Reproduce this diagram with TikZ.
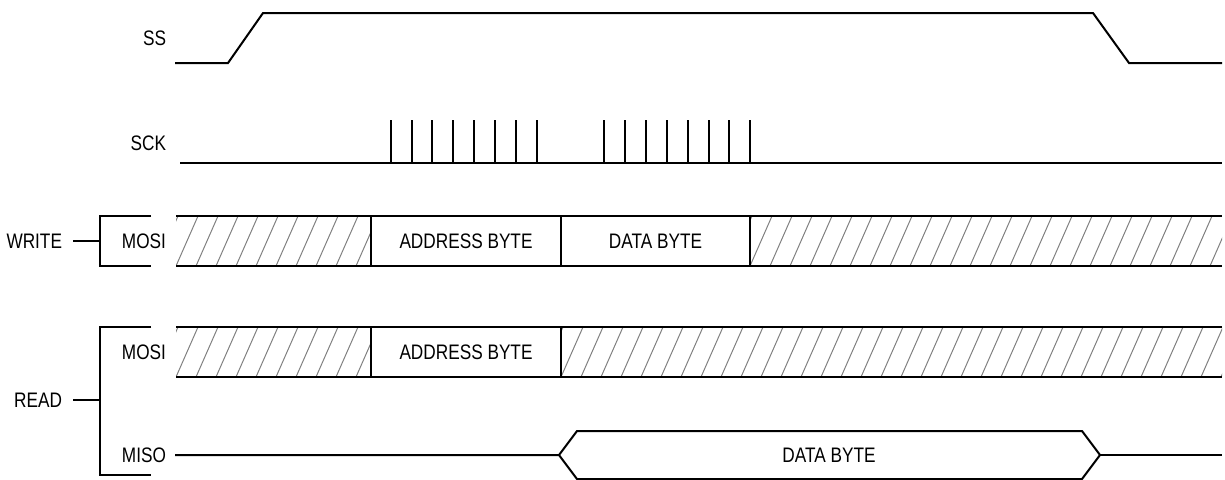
\documentclass[tikz,border=0pt]{standalone}
\usepackage{fontspec}
\setmainfont[FakeStretch=0.82]{Liberation Sans}

% hatched field: left x, right x, top y, bottom y
\newcommand{\hatchfield}[4]{%
  \begin{scope}
    \clip (#1,#3) rectangle (#2,#4);
    \foreach \k in {0,...,60}
      \draw [hatchline] ({#1-40+20*\k},#4) -- ++(22,-50);
  \end{scope}}

\begin{document}
\begin{tikzpicture}[x=0.5pt,y=-0.5pt,line width=1pt,
    every node/.style={font=\fontsize{10.5}{12}\selectfont,inner sep=0pt},
    siglabel/.style={anchor=east},
    hatchline/.style={gray,line width=0.5pt}]
  \useasboundingbox (0,0) rectangle (1225,479);

  % SS
  \node [siglabel] (ss) at (167,38) {SS};
  \draw (175,63) -- (228,63) -- (263,13) -- (1093,13) -- (1129,63) -- (1222,63);

  % SCK
  \node [siglabel] (sck) at (167,143) {SCK};
  \draw (180,163) -- (1222,163);
  \foreach \i in {0,...,7} {
    \draw ({390.7+20.85*\i},163) -- ++(0,-43);
    \draw ({604.3+20.85*\i},163) -- ++(0,-43);
  }

  % write
  \node [siglabel] (write) at (63,241) {WRITE};
  \coordinate (wbr) at (100,241);
  \draw (write.east) ++(10,0) -- (wbr);
  \draw (151,216) -- (100,216) -- (100,266) -- (151,266);
  \node [siglabel] (wmosi) at (167,241) {MOSI};
  \hatchfield{176}{371}{216}{266}
  \hatchfield{750}{1222}{216}{266}
  \draw (176,216) -- (1222,216);
  \draw (176,266) -- (1222,266);
  \draw (371,216) -- (371,266);
  \draw (561,216) -- (561,266);
  \draw (750,216) -- (750,266);
  \node (waddr) at (466,241) {ADDRESS BYTE};
  \node (wdata) at (655.5,241) {DATA BYTE};

  % read
  \node [siglabel] (read) at (63,400) {READ};
  \coordinate (rbr) at (100,400);
  \draw (read.east) ++(10,0) -- (rbr);
  \draw (151,327) -- (100,327) -- (100,475) -- (151,475);
  \node [siglabel] (rmosi) at (167,352) {MOSI};
  \hatchfield{176}{371}{327}{377}
  \hatchfield{561}{1222}{327}{377}
  \draw (176,327) -- (1222,327);
  \draw (176,377) -- (1222,377);
  \draw (371,327) -- (371,377);
  \draw (561,327) -- (561,377);
  \node (raddr) at (466,352) {ADDRESS BYTE};

  \node [siglabel] (miso) at (167,455) {MISO};
  \draw (175,455) -- (559,455) -- (577,431) -- (1082,431) -- (1100,455)
    -- (1082,479) -- (577,479) -- (559,455);
  \draw (1100,455) -- (1222,455);
  \node (rdata) at (829,455) {DATA BYTE};
\end{tikzpicture}
\end{document}
